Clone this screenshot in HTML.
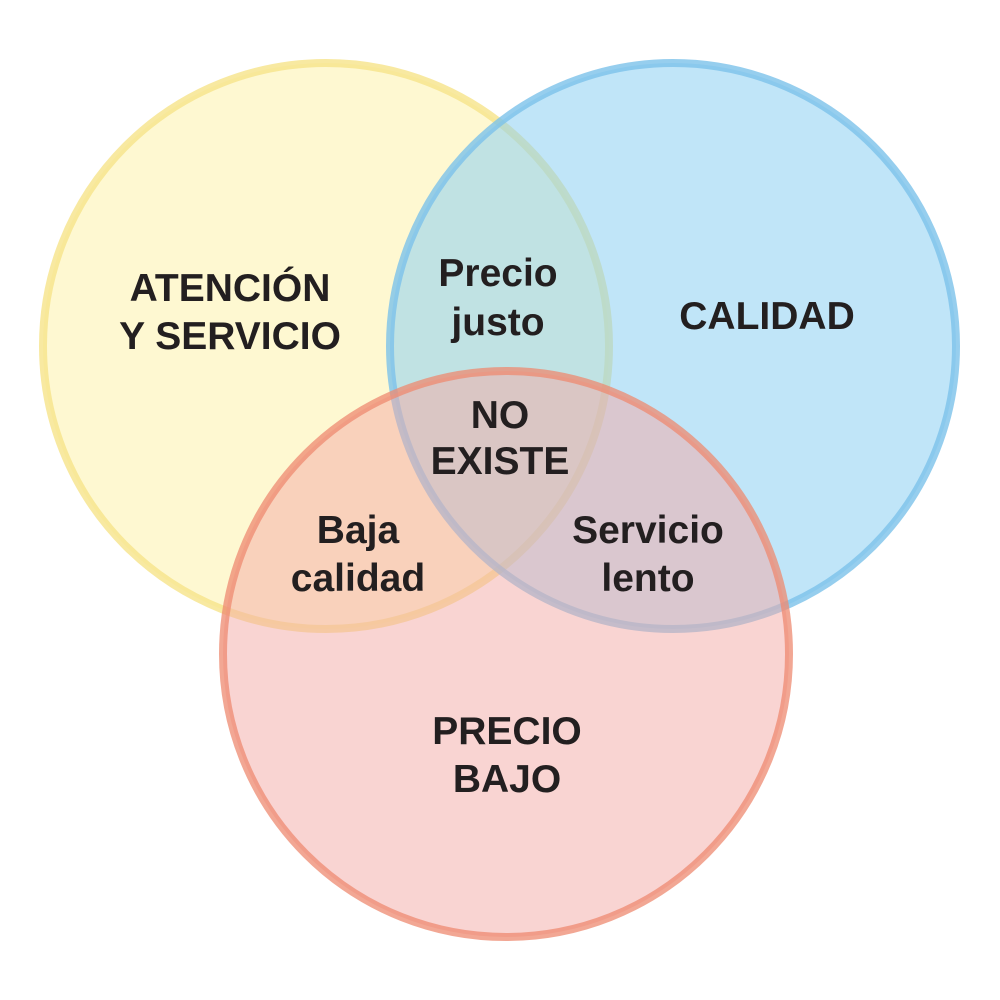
<!DOCTYPE html>
<html><head><meta charset="utf-8"><style>
html,body{margin:0;padding:0;background:#fff;}
svg{display:block}
text{font-family:"Liberation Sans",sans-serif;font-weight:bold;font-size:39px;fill:#231f20;text-anchor:middle}
</style></head><body>
<svg width="1000" height="1000" viewBox="0 0 1000 1000">
<circle cx="326" cy="346" r="283" fill="#fcf09a" fill-opacity="0.45" stroke="#f6e48a" stroke-opacity="0.8" stroke-width="8"/>
<circle cx="673" cy="346" r="283" fill="#8dd0f3" fill-opacity="0.55" stroke="#7cc2ea" stroke-opacity="0.8" stroke-width="8"/>
<circle cx="506" cy="654" r="283" fill="#f4a9a6" fill-opacity="0.5" stroke="#ee8a70" stroke-opacity="0.75" stroke-width="8"/>
<text x="230" y="301">ATENCIÓN</text>
<text x="230" y="349">Y SERVICIO</text>
<text x="767" y="329">CALIDAD</text>
<text x="498" y="286">Precio</text>
<text x="498" y="335">justo</text>
<text x="500" y="428">NO</text>
<text x="500" y="474">EXISTE</text>
<text x="358" y="543">Baja</text>
<text x="358" y="591">calidad</text>
<text x="648" y="543">Servicio</text>
<text x="648" y="591">lento</text>
<text x="507" y="744">PRECIO</text>
<text x="507" y="792">BAJO</text>
</svg>
</body></html>
